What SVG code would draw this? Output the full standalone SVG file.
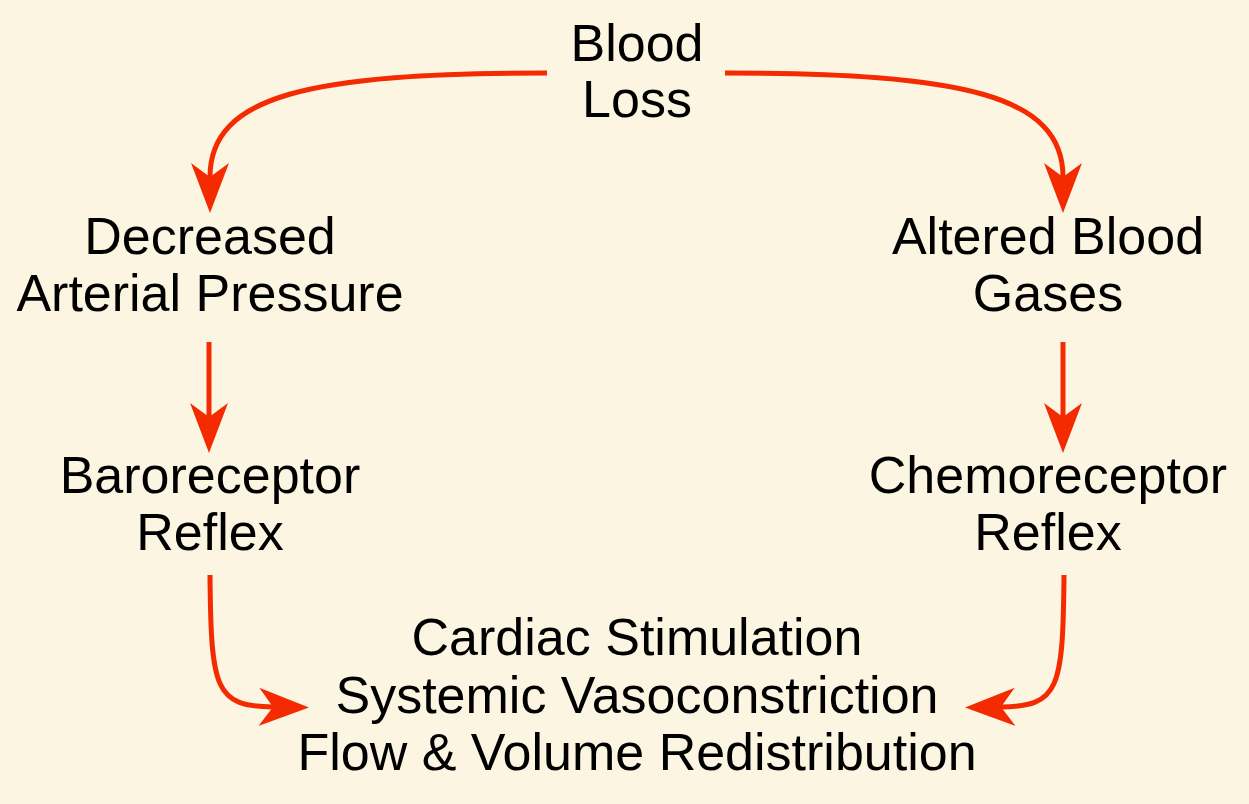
<svg xmlns="http://www.w3.org/2000/svg" width="1249" height="804" viewBox="0 0 1249 804">
<style>
text{font-family:"Liberation Sans",Arial,sans-serif;font-size:52px;fill:#000;text-anchor:middle}
.e{fill:none;stroke:#f42a00;stroke-width:5;marker-end:url(#ah)}
</style>
<defs>
<marker id="ah" markerUnits="userSpaceOnUse" viewBox="0 0 50 38" markerWidth="50" markerHeight="38" refX="14" refY="19" orient="auto">
<path d="M0,0 L50,19 L0,38 L14,19 Z" fill="#f42a00"/>
</marker>
</defs>
<rect width="1249" height="804" fill="#fcf5e1"/>
<g id="connectors">
<path class="e" d="M547,73 C310,73 210,95 210,177"/>
<path class="e" d="M725,73 C962,73 1063,95 1063,177"/>
<path class="e" d="M209,342 L209,417"/>
<path class="e" d="M1063,342 L1063,417"/>
<path class="e" d="M210,575 C211,690 215,706 273,707"/>
<path class="e" d="M1064,575 C1063,690 1059,706 1001,707"/>
</g>
<g id="blood-loss"><text x="637" y="61">Blood</text><text x="637" y="117">Loss</text></g>
<g id="decreased-pressure"><text x="210" y="254">Decreased</text><text x="210" y="311">Arterial Pressure</text></g>
<g id="altered-gases"><text x="1048" y="254">Altered Blood</text><text x="1048" y="311">Gases</text></g>
<g id="baroreceptor"><text x="210" y="493">Baroreceptor</text><text x="210" y="550">Reflex</text></g>
<g id="chemoreceptor"><text x="1048" y="493">Chemoreceptor</text><text x="1048" y="550">Reflex</text></g>
<g id="response"><text x="637" y="655">Cardiac Stimulation</text><text x="637" y="713">Systemic Vasoconstriction</text><text x="637" y="770">Flow &amp; Volume Redistribution</text></g>
</svg>
